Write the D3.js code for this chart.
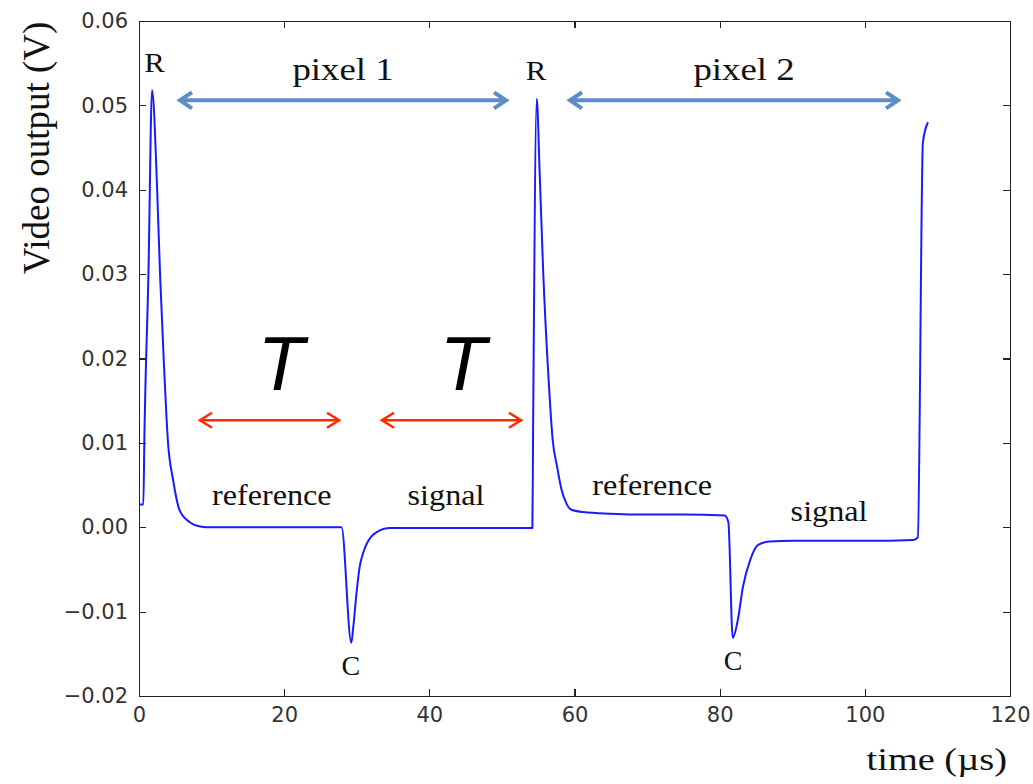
<!DOCTYPE html>
<meta charset="utf-8">
<style>
 body { margin: 0; background: #fff; }
 svg { background: #fff; }
 .axis path, .axis line { fill: none; stroke: #222; shape-rendering: crispEdges; }
 .axis path { stroke-width: 1.6px; }
 .axis line { stroke-width: 1.2px; }
 .axis text { font-family: "DejaVu Sans", sans-serif; font-size: 21px; fill: #333; }
 .note { font-family: "Liberation Serif", "Times New Roman", serif; fill: #111; }
</style>
<body>
<svg width="1033" height="784"></svg>
<script src="https://d3js.org/d3.v7.min.js"></script>
<script>

 // video output trace (time in us, output in V)
 var timeUs = [0, 0.6, 0.75, 1.3, 1.8, 2.5, 2.9, 3.4, 4.0, 4.7, 5.6, 7.0, 8.4, 10, 15, 20, 25,
               27.9, 29.25, 29.5, 30.0, 30.4, 30.9, 31.4, 32.0, 32.7, 34.6, 40, 45, 50,
               54.2, 54.3, 54.8, 55.2, 55.7, 56.4, 57.0, 57.6, 58.2, 58.9, 59.5, 61.2, 65, 70, 75,
               80.7, 81.2, 81.8, 82.5, 83.2, 84.2, 85.3, 86.9, 90, 95, 100,
               106.7, 107.3, 108.0, 108.7];
 var videoV = [0.0027, 0.0027, 0.011, 0.030, 0.0518, 0.040, 0.030, 0.020, 0.010, 0.0056, 0.002, 0.0006, 0.0001, 0.0, 0.0, 0.0, 0.0,
               0.0, -0.0137, -0.012, -0.0075, -0.0047, -0.003, -0.0019, -0.0011, -0.0006, -0.0001, -0.0001, -0.0001, -0.0001,
               -0.0001, 0.012, 0.0508, 0.042, 0.030, 0.018, 0.0103, 0.0072, 0.0045, 0.0028, 0.0021, 0.0018, 0.0016, 0.0015, 0.0015,
               0.0014, 0.0006, -0.0131, -0.011, -0.0071, -0.0039, -0.0021, -0.0017, -0.0016, -0.0016, -0.0016,
               -0.0015, -0.0012, 0.0456, 0.048];

 var xTicks = [0, 20, 40, 60, 80, 100, 120];
 var yTicks = [-0.02, -0.01, 0.00, 0.01, 0.02, 0.03, 0.04, 0.05, 0.06];

 // annotations, anchored in data units
 var spanArrows = [{x0: 5.37, x1: 50.84, v: 0.0506}, {x0: 59.1, x1: 104.85, v: 0.0506}];
 var periodArrows = [{x0: 8.13, x1: 27.83, v: 0.01268}, {x0: 33.2, x1: 52.9, v: 0.01268}];
 var pixelLabels = [{text: "pixel 1", t: 28.1, v: 0.0530}, {text: "pixel 2", t: 83.36, v: 0.0530}];
 var pointLabels = [{text: "R", t: 2.14, v: 0.0539}, {text: "R", t: 54.7, v: 0.0530},
                    {text: "C", t: 29.2, v: -0.01753}, {text: "C", t: 81.84, v: -0.01694}];
 var phaseLabels = [{text: "reference", t: 18.3, v: 0.0026}, {text: "signal", t: 42.3, v: 0.0026},
                    {text: "reference", t: 70.7, v: 0.0038}, {text: "signal", t: 95.07, v: 0.0008}];
 var periodLabels = [{text: "T", t: 19.56, v: 0.01623}, {text: "T", t: 44.64, v: 0.01623}];

 var svg = d3.select("svg"),
     margin = {top: 21, right: 23, bottom: 88, left: 139},
     width = +svg.attr("width") - margin.left - margin.right,
     height = +svg.attr("height") - margin.top - margin.bottom,
     g = svg.append("g").attr("transform", "translate(" + margin.left + "," + margin.top + ")");

 var x = d3.scaleLinear().domain([0, 120]).range([0, width]);
 var y = d3.scaleLinear().domain([-0.02, 0.06]).range([height, 0]);

 // frame with inward ticks on all four sides (matplotlib style)
 g.append("g").attr("class", "axis")
  .attr("transform", "translate(0," + height + ")")
  .call(d3.axisBottom(x).tickValues(xTicks).tickSizeInner(-7).tickSizeOuter(0).tickPadding(11));
 g.append("g").attr("class", "axis")
  .call(d3.axisLeft(y).tickValues(yTicks).tickFormat(d3.format(".2f")).tickSizeInner(-7).tickSizeOuter(0).tickPadding(11));
 g.append("g").attr("class", "axis")
  .call(d3.axisTop(x).tickValues(xTicks).tickFormat("").tickSizeInner(-7).tickSizeOuter(0));
 g.append("g").attr("class", "axis")
  .attr("transform", "translate(" + width + ",0)")
  .call(d3.axisRight(y).tickValues(yTicks).tickFormat("").tickSizeInner(-7).tickSizeOuter(0));

 var trace = timeUs.map(function(t, i) { return [t, videoV[i]]; });
 var line = d3.line()
     .x(function(d) { return x(d[0]); })
     .y(function(d) { return y(d[1]); })
     .curve(d3.curveMonotoneX);
 g.append("path")
  .datum(trace)
  .attr("d", line)
  .attr("fill", "none")
  .attr("stroke", "#1a1aff")
  .attr("stroke-width", 2)
  .attr("stroke-linejoin", "round");

 /* double headed arrow drawn as a shaft plus two chevrons */
 function arrow(a, color, w, len, half) {
     var x0 = x(a.x0), x1 = x(a.x1), yy = y(a.v);
     var ag = g.append("g").attr("fill", "none").attr("stroke", color)
               .attr("stroke-width", w).attr("stroke-linejoin", "miter");
     ag.append("line").attr("x1", x0 + 2).attr("x2", x1 - 2).attr("y1", yy).attr("y2", yy);
     ag.append("polyline").attr("points", [[x0 + len, yy - half], [x0 + 2, yy], [x0 + len, yy + half]].join(" "));
     ag.append("polyline").attr("points", [[x1 - len, yy - half], [x1 - 2, yy], [x1 - len, yy + half]].join(" "));
 }
 spanArrows.forEach(function(a) { arrow(a, "#5b8ec6", 4, 14, 8); });
 periodArrows.forEach(function(a) { arrow(a, "#ff2a00", 2.6, 14, 7.5); });

 /* serif note, centred, optionally stretched sideways like the original slide */
 function note(d, size, sx) {
     g.append("text").attr("class", "note")
      .attr("transform", "translate(" + x(d.t) + "," + y(d.v) + ") scale(" + sx + ",1)")
      .attr("text-anchor", "middle")
      .style("font-size", size + "px")
      .text(d.text);
 }
 pixelLabels.forEach(function(d) { note(d, 32, 1.15); });
 pointLabels.forEach(function(d) { note(d, 28, d.text == "R" ? 1.1 : 1.0); });
 phaseLabels.forEach(function(d) { note(d, 29, 1.11); });

 periodLabels.forEach(function(d) {
     g.append("text")
      .attr("x", x(d.t)).attr("y", y(d.v))
      .attr("text-anchor", "middle")
      .style("font-family", "'Liberation Sans', Arial, sans-serif")
      .style("font-style", "italic")
      .style("font-size", "76px")
      .style("fill", "#000")
      .text(d.text);
 });

 // axis titles
 svg.append("text").attr("class", "note")
    .attr("transform", "translate(49,148) rotate(-90)")
    .attr("text-anchor", "middle")
    .style("font-size", "37px")
    .text("Video output (V)");
 svg.append("text").attr("class", "note")
    .attr("transform", "translate(1007,770) scale(1.2,1)")
    .attr("text-anchor", "end")
    .style("font-size", "32px")
    .text("time (\u00b5s)");

</script>
</body>
</html>
